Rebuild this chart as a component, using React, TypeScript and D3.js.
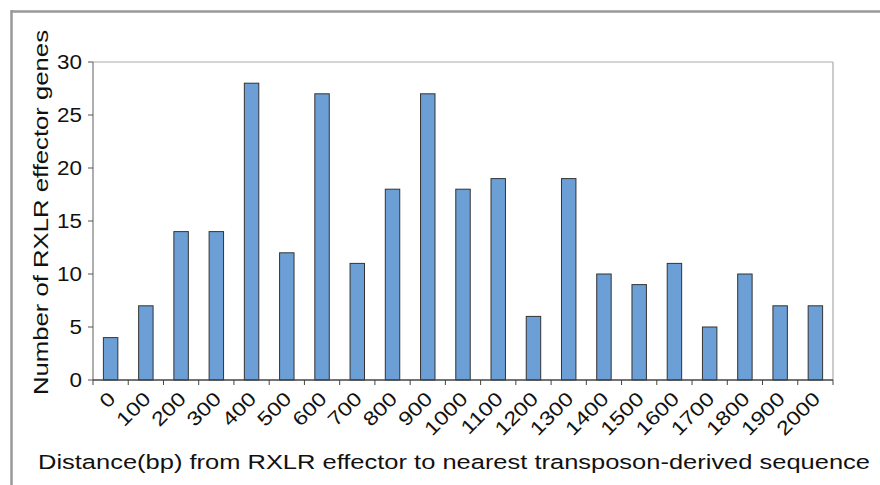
import React from "react";
import * as d3 from "d3";

// distance bins (bp) and gene counts
const distances = ["0", "100", "200", "300", "400", "500", "600", "700", "800", "900", "1000",
  "1100", "1200", "1300", "1400", "1500", "1600", "1700", "1800", "1900", "2000"];
const geneCounts = [4, 7, 14, 14, 28, 12, 27, 11, 18, 27, 18, 19, 6, 19, 10, 9, 11, 5, 10, 7, 7];
const yTicks = [0, 5, 10, 15, 20, 25, 30];

const xTitle = "Distance(bp) from RXLR effector to nearest transposon-derived sequence";
const yTitle = "Number of RXLR effector genes";

const W = 880, H = 485;
const plot = { left: 93, right: 833, top: 62, bottom: 380 };
const font = "'Liberation Sans', Arial, Helvetica, sans-serif";

export default function App() {
  const x = d3.scaleBand().domain(distances).range([plot.left, plot.right]).paddingInner(0.59).paddingOuter(0.295);
  const xCells = d3.scaleBand().domain(distances).range([plot.left, plot.right]);
  const y = d3.scaleLinear().domain([0, 30]).range([plot.bottom, plot.top]);

  const data = distances.map((d, i) => ({ label: d, value: geneCounts[i] }));
  const boundaries = d3.range(distances.length + 1).map(i => plot.left + i * xCells.step());

  return (
    <svg width={W} height={H} style={{ position: "absolute", left: 0, top: 0, background: "#fff" }}>
      {/* outer frame */}
      <line x1={11} x2={W} y1={11.5} y2={11.5} stroke="#999" strokeWidth={2.5} />
      <line x1={11.5} x2={11.5} y1={10} y2={H} stroke="#999" strokeWidth={2.5} />

      {/* plot box */}
      <line x1={plot.left} x2={plot.right} y1={plot.top} y2={plot.top} stroke="#aaa" strokeWidth={1} />
      <line x1={plot.right} x2={plot.right} y1={plot.top} y2={plot.bottom} stroke="#aaa" strokeWidth={1.2} />

      {/* bars */}
      {data.map(d => (
        <rect key={d.label} x={x(d.label)} y={y(d.value)} width={x.bandwidth()} height={plot.bottom - y(d.value)}
          fill="#6b9fd5" stroke="#333" strokeWidth={1} />
      ))}

      {/* y axis */}
      <line x1={plot.left} x2={plot.left} y1={plot.top} y2={plot.bottom} stroke="#777" strokeWidth={1.2} />
      {yTicks.map(t => (
        <g key={t}>
          <line x1={plot.left - 5} x2={plot.left} y1={y(t)} y2={y(t)} stroke="#555" strokeWidth={1} />
          <text transform={`translate(${plot.left - 11}, ${y(t)}) scale(1.15, 1)`} dy="0.36em" textAnchor="end"
            fontFamily={font} fontSize={19.5} fill="#111">{t}</text>
        </g>
      ))}

      {/* x axis */}
      <line x1={plot.left} x2={plot.right} y1={plot.bottom} y2={plot.bottom} stroke="#444" strokeWidth={1.4} />
      {boundaries.map((b, i) => (
        <line key={i} x1={b} x2={b} y1={plot.bottom} y2={plot.bottom + 5} stroke="#444" strokeWidth={1} />
      ))}
      {distances.map(d => {
        const cx = (xCells(d) as number) + xCells.bandwidth() / 2 + 6;
        const cy = plot.bottom + 20;
        return (
          <text key={d} transform={`translate(${cx}, ${cy}) rotate(-45) scale(1.2, 1)`} textAnchor="end"
            fontFamily={font} fontSize={19.5} fill="#111">{d}</text>
        );
      })}

      {/* titles */}
      <text x={38} y={469} textLength={832} lengthAdjust="spacingAndGlyphs" fontFamily={font} fontSize={20.5} fill="#111">{xTitle}</text>
      <text transform={`translate(48, 395) rotate(-90)`} textLength={365} lengthAdjust="spacingAndGlyphs"
        fontFamily={font} fontSize={20.5} fill="#111">{yTitle}</text>
    </svg>
  );
}
